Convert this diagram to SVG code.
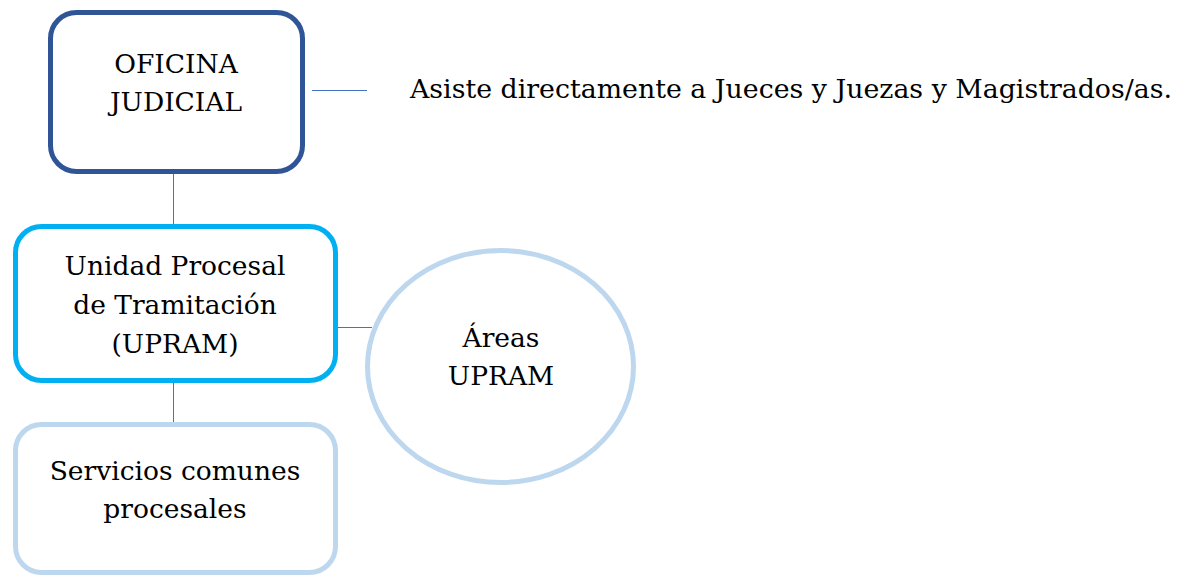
<svg xmlns="http://www.w3.org/2000/svg" width="1178" height="576" viewBox="0 0 1178 576">
<style>
text{font-family:"DejaVu Serif","Liberation Serif",serif;font-size:26.5px;fill:#000;text-anchor:middle}
.conn{stroke:#4472C4;stroke-width:1;fill:none}
.box{fill:#fff;stroke-width:5}
</style>
<rect width="1178" height="576" fill="#fff"/>
<g id="connectors">
<line class="conn" x1="312" y1="90.5" x2="367" y2="90.5"/>
<line class="conn" x1="173.5" y1="174" x2="173.5" y2="224"/>
<line class="conn" x1="338" y1="327.5" x2="372" y2="327.5"/>
<line class="conn" x1="173.5" y1="383" x2="173.5" y2="422"/>
</g>
<g id="oficina">
<rect class="box" x="50.5" y="12.5" width="252" height="159" rx="26" stroke="#2F5597"/>
<text x="176" y="73">OFICINA</text>
<text x="176" y="111">JUDICIAL</text>
</g>
<g id="asiste">
<text x="410" y="98" style="text-anchor:start" textLength="762" lengthAdjust="spacingAndGlyphs">Asiste directamente a Jueces y Juezas y Magistrados/as.</text>
</g>
<g id="upram">
<rect class="box" x="15.5" y="226.5" width="320" height="154" rx="26" stroke="#00B0F0"/>
<text x="175" y="275">Unidad Procesal</text>
<text x="175" y="314">de Tramitación</text>
<text x="175" y="353">(UPRAM)</text>
</g>
<g id="servicios">
<rect class="box" x="15.5" y="424.5" width="320" height="148" rx="26" stroke="#BDD7EE"/>
<text x="175" y="480">Servicios comunes</text>
<text x="175" y="518">procesales</text>
</g>
<g id="areas">
<ellipse class="box" cx="500.5" cy="366.5" rx="133" ry="116" stroke="#BDD7EE"/>
<text x="501" y="347">Áreas</text>
<text x="501" y="385">UPRAM</text>
</g>
</svg>
